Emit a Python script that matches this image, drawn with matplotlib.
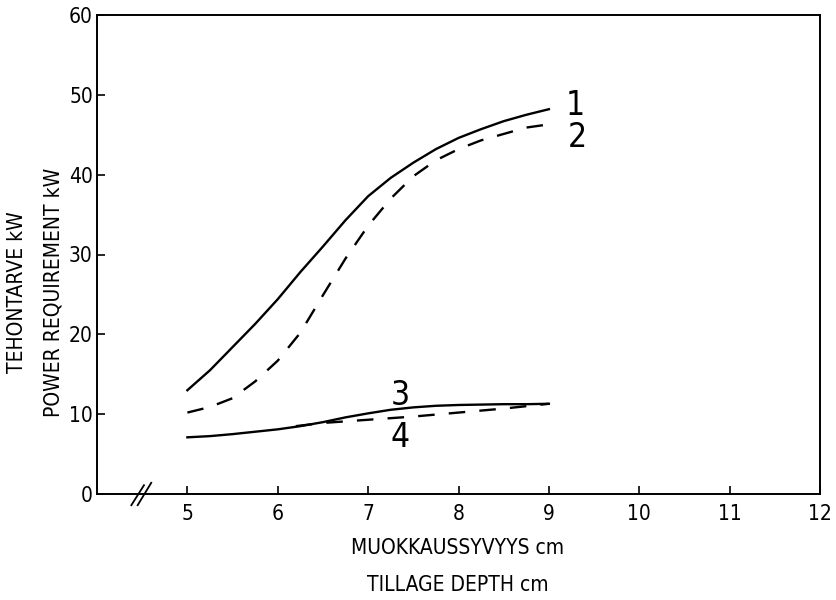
import matplotlib
matplotlib.use("Agg")
import matplotlib.pyplot as plt

plt.rcParams['font.family'] = ['DejaVu Sans']
plt.rcParams['font.stretch'] = 'condensed'

# tillage depth (cm) and power requirement (kW)
depth = [5.0, 5.25, 5.5, 5.75, 6.0, 6.25, 6.5, 6.75, 7.0,
         7.25, 7.5, 7.75, 8.0, 8.25, 8.5, 8.75, 9.0]
power1 = [13.0, 15.5, 18.4, 21.3, 24.4, 27.8, 31.0, 34.3, 37.3,
          39.6, 41.5, 43.2, 44.6, 45.7, 46.7, 47.5, 48.2]
power2 = [10.2, 10.9, 12.0, 14.1, 16.7, 20.2, 24.9, 29.5, 33.6,
          37.0, 39.8, 41.8, 43.2, 44.3, 45.1, 45.9, 46.3]
power3 = [7.1, 7.25, 7.5, 7.8, 8.1, 8.5, 9.0, 9.6, 10.1,
          10.55, 10.85, 11.05, 11.15, 11.2, 11.25, 11.25, 11.3]
depth4 = [6.2, 6.5, 6.75, 7.0, 7.25, 7.5, 7.75, 8.0, 8.25, 8.5, 8.75, 9.0]
power4 = [8.5, 8.9, 9.1, 9.3, 9.5, 9.7, 9.95, 10.2, 10.45, 10.7, 11.0, 11.3]

curve_labels = ['1', '2', '3', '4']
label_x = [9.29, 9.32, 7.35, 7.35]
label_y = [48.7, 44.6, 12.4, 7.1]

xticks = [5, 6, 7, 8, 9, 10, 11, 12]
yticks = [0, 10, 20, 30, 40, 50, 60]

fig = plt.figure(figsize=(8.37, 6.0), dpi=100)
ax = fig.add_axes([97 / 837, 1 - 494 / 600, (820 - 97) / 837, (494 - 15) / 600])

ax.plot(depth, power1, color='black', lw=1.7)
ax.plot(depth, power2, color='black', lw=1.7, dashes=(7, 6))
ax.plot(depth, power3, color='black', lw=1.7)
ax.plot(depth4, power4, color='black', lw=1.7, dashes=(7, 6))

for t, x, y in zip(curve_labels, label_x, label_y):
    ax.text(x, y, t, fontsize=24, ha='center', va='center', fontweight='light')

ax.set_xlim(4, 12)
ax.set_ylim(0, 60)
ax.set_xticks(xticks)
ax.set_yticks(yticks)
ax.tick_params(direction='in', length=6, width=1.2, labelsize=15)
ax.tick_params(axis='x', pad=7)
ax.tick_params(axis='y', pad=3)
for s in ax.spines.values():
    s.set_linewidth(1.4)

# axis break marks
ax.plot([4.38, 4.52], [-1.4, 1.1], color='black', lw=1.3, clip_on=False)
ax.plot([4.45, 4.60], [-1.4, 1.4], color='black', lw=1.3, clip_on=False)

fig.text(17 / 837, 0.513, 'TEHONTARVE kW', rotation=90, ha='center', va='center', fontsize=15)
fig.text(54 / 837, 0.513, 'POWER REQUIREMENT kW', rotation=90, ha='center', va='center', fontsize=15)
fig.text(458 / 837, 52 / 600, 'MUOKKAUSSYVYYS cm', ha='center', va='center', fontsize=15)
fig.text(458 / 837, 15 / 600, 'TILLAGE DEPTH cm', ha='center', va='center', fontsize=15)

fig.savefig('out.png', dpi=100)
